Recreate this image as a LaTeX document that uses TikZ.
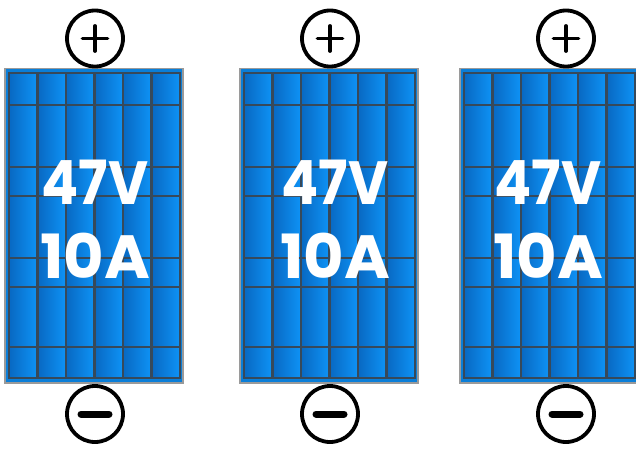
\documentclass[tikz,border=0pt]{standalone}
\usepackage{fontspec}
\setmainfont{Poppins}[BoldFont={* Bold}]
\definecolor{cellshade}{HTML}{0868C2}
\definecolor{celllight}{HTML}{0E93F6}
\definecolor{frameblue}{HTML}{0A7ED8}
\definecolor{gridgray}{HTML}{37495A}
\definecolor{rimgray}{HTML}{9A9A9A}
\tikzset{
  rim/.style={draw=rimgray, line width=1.6pt},
  framefill/.style={fill=frameblue},
  gridline/.style={draw=gridgray, line width=2.5pt},
  valuetext/.style={text=white, font=\fontsize{61}{61}\selectfont\bfseries,
    inner sep=0pt, transform shape},
  terminal/.style={circle, draw=black, line width=3.8pt, minimum size=56pt, inner sep=0pt},
  signstroke/.style={draw=black, line width=3.8pt, line cap=round},
  minusstroke/.style={draw=black, line width=7pt, line cap=round}
}
% one module: #1 name, #2 horizontal offset, #3 terminal x, #4 label x
\newcommand\solarmodule[4]{%
  \begin{scope}[shift={(#2,0)}]
    \draw[rim] (5,68.5) rectangle (183,383);
    \fill[framefill] (5.8,69.3) rectangle (182.2,382.2);
    \foreach \i in {0,...,5}
      \shade[left color=cellshade, right color=celllight]
        ({9+28.5*\i},73) rectangle ({9+28.5*(\i+1)},378);
    \foreach \gx in {37.5,66,94.5,123,151.5}
      \draw[gridline] (\gx,73) -- (\gx,378);
    \foreach \gy in {105,167,196,258,287,347}
      \draw[gridline] (9,\gy) -- (180,\gy);
    \draw[gridline] (9,73) rectangle (180,378);
  \end{scope}
  \node[valuetext, xscale=0.9] (#1volt) at (#4,182) {47V};
  \node[valuetext, xscale=1.02] (#1amp) at (#4,256) {10A};
  \node[terminal] (#1pos) at (#3,38.5) {};
  \draw[signstroke] ([xshift=-12.5pt]#1pos.center) -- ([xshift=12.5pt]#1pos.center);
  \draw[signstroke] ([yshift=-12.5pt]#1pos.center) -- ([yshift=12.5pt]#1pos.center);
  \node[terminal] (#1neg) at (#3,414) {};
  \draw[minusstroke] ([xshift=-14pt]#1neg.center) -- ([xshift=14pt]#1neg.center);
}
\begin{document}
\begin{tikzpicture}[x=1pt,y=-1pt]
  \useasboundingbox (0,0) rectangle (636,449);
  \fill[white] (0,0) rectangle (636,449);
  \solarmodule{a}{0}{95}{95}
  \solarmodule{b}{235}{330}{335}
  \solarmodule{c}{455}{566}{548}
\end{tikzpicture}
\end{document}
